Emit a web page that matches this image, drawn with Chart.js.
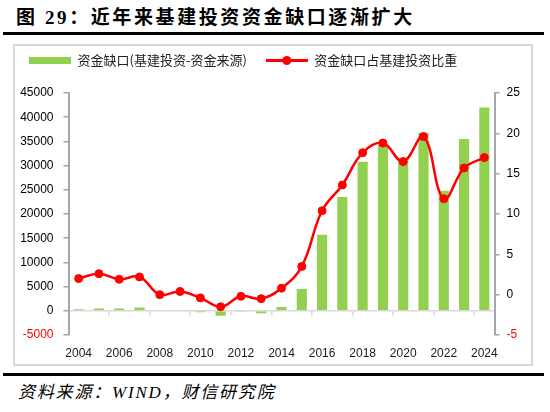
<!DOCTYPE html>
<html>
<head>
<meta charset="utf-8">
<script src="https://cdn.jsdelivr.net/npm/chart.js@4/dist/chart.umd.min.js"></script>
<style>
  body { margin: 0; background: #fff; width: 550px; height: 412px; position: relative; overflow: hidden; }
  #title { position: absolute; left: 16px; top: 8px; font: bold 19px/19px 'Liberation Serif', 'Noto Sans CJK SC', serif; letter-spacing: 2.6px; color: #000; white-space: nowrap; }
  .rule { position: absolute; left: 3px; width: 541px; height: 3px; background: #000; }
  #frame { position: absolute; left: 13px; top: 44px; width: 520px; height: 322px; box-sizing: border-box; border: 2px solid #d9d9d9; }
  #chart { position: absolute; left: 10px; top: 35px; }
  #source { position: absolute; left: 18px; top: 384px; font: italic 17px/18px 'Liberation Serif', 'Noto Sans CJK SC', serif; letter-spacing: 1.8px; color: #000; white-space: nowrap; }
</style>
</head>
<body>
<div id="title">图 29：近年来基建投资资金缺口逐渐扩大</div>
<div class="rule" style="top:32px"></div>
<div id="frame"></div>
<canvas id="chart" width="525" height="326"></canvas>
<div class="rule" style="top:373px"></div>
<div id="source">资料来源：WIND，财信研究院</div>

<script>
// data
var years = ['2004', '2005', '2006', '2007', '2008', '2009', '2010', '2011', '2012', '2013', '2014',
             '2015', '2016', '2017', '2018', '2019', '2020', '2021', '2022', '2023', '2024'];
// 资金缺口 (left axis)
var gapValues = [300, 500, 500, 700, 0, 150, -300, -1000, -100, -500, 800,
                 4500, 15700, 23500, 30800, 34300, 30900, 36800, 24800, 35500, 42000];
// 资金缺口占基建投资比重 (right axis, %)
var ratioValues = [2.0, 2.6, 1.9, 2.2, 0.0, 0.4, -0.4, -1.5, -0.2, -0.5, 0.8,
                   3.5, 10.4, 13.6, 17.6, 18.8, 16.5, 19.6, 11.9, 15.7, 17.0];
var leftTicks = { min: -5000, max: 45000, step: 5000 };
var rightTicks = { min: -5, max: 25, step: 5 };
var gapLabel = '资金缺口(基建投资-资金来源)';
var ratioLabel = '资金缺口占基建投资比重';

var green = '#92D050';
var red = '#FF0000';
var axisGray = '#a6a6a6';
var zeroGray = '#d9d9d9';

Chart.defaults.font.family = "'Liberation Sans', Arial, sans-serif";
Chart.defaults.font.size = 12;
Chart.defaults.color = '#000';

// little canvases used as legend symbols
function makeIcon(w, h, draw) {
    var c = document.createElement('canvas');
    c.width = w;
    c.height = h;
    draw(c.getContext('2d'), w, h);
    return c;
}
var barIcon = makeIcon(42, 7, function (ctx, w, h) {
    ctx.fillStyle = green;
    ctx.fillRect(0, 0, w, h);
});
var lineIcon = makeIcon(42, 11, function (ctx, w, h) {
    ctx.strokeStyle = red;
    ctx.lineWidth = 3;
    ctx.beginPath();
    ctx.moveTo(0, h / 2);
    ctx.lineTo(w, h / 2);
    ctx.stroke();
    ctx.fillStyle = red;
    ctx.beginPath();
    ctx.arc(w / 2, h / 2, 4.5, 0, Math.PI * 2);
    ctx.fill();
});

// extra room between legend and plot
var legendGap = {
    id: 'legendGap',
    beforeInit: function (chart) {
        var fit = chart.legend.fit;
        chart.legend.fit = function () {
            fit.call(this);
            this.height += 16;
        };
    }
};

function redNegative(ctx) {
    return ctx.tick && ctx.tick.value < 0 ? red : '#000';
}

new Chart(document.getElementById('chart'), {
    type: 'bar',
    data: {
        labels: years,
        datasets: [{
            label: gapLabel,
            data: gapValues,
            backgroundColor: green,
            barPercentage: 0.5,
            categoryPercentage: 1,
            yAxisID: 'y',
            order: 1
        }, {
            type: 'line',
            label: ratioLabel,
            data: ratioValues,
            borderColor: red,
            borderWidth: 2.5,
            tension: 0.4,
            pointRadius: 4,
            pointBorderWidth: 1,
            pointBackgroundColor: red,
            pointBorderColor: red,
            yAxisID: 'y1',
            order: 0
        }]
    },
    options: {
        responsive: false,
        animation: false,
        layout: { padding: 0 },
        plugins: {
            tooltip: { enabled: false },
            legend: {
                position: 'top',
                align: 'start',
                labels: {
                    usePointStyle: true,
                    pointStyleWidth: 42,
                    padding: 19,
                    color: '#222',
                    font: { family: "'Noto Sans CJK SC', sans-serif", size: 13 },
                    generateLabels: function () {
                        return [
                            { text: gapLabel, pointStyle: barIcon, datasetIndex: 0, lineWidth: 0,
                              fillStyle: 'transparent', strokeStyle: 'transparent', fontColor: '#222', hidden: false },
                            { text: ratioLabel, pointStyle: lineIcon, datasetIndex: 1, lineWidth: 0,
                              fillStyle: 'transparent', strokeStyle: 'transparent', fontColor: '#222', hidden: false }
                        ];
                    }
                }
            }
        },
        scales: {
            x: {
                position: 'bottom',
                grid: { display: false, drawTicks: false },
                border: { display: false },
                ticks: {
                    autoSkip: false,
                    maxRotation: 0,
                    padding: 11,
                    color: '#1a1a1a',
                    callback: function (v, i) { return i % 2 === 0 ? years[i] : ''; }
                },
                afterFit: function (s) { s.height = 26; }
            },
            // zero line of the left axis with its tick marks
            x0: {
                type: 'category',
                position: { y: 0 },
                offset: true,
                ticks: { display: false },
                grid: {
                    offset: true,
                    drawOnChartArea: false,
                    drawTicks: true,
                    tickLength: 4,
                    lineWidth: 1.5,
                    color: function (ctx) { return ctx.index % 2 === 0 ? zeroGray : 'rgba(0,0,0,0)'; }
                },
                border: { color: zeroGray, width: 1.5 }
            },
            y: {
                position: 'left',
                min: leftTicks.min,
                max: leftTicks.max,
                ticks: {
                    stepSize: leftTicks.step,
                    padding: 10,
                    color: redNegative,
                    callback: function (v) { return v; }
                },
                grid: { drawOnChartArea: false, tickLength: 5, color: axisGray, lineWidth: 1.5 },
                border: { color: axisGray, width: 2 },
                afterFit: function (s) { s.width = 58.5; }
            },
            y1: {
                position: 'right',
                min: rightTicks.min,
                max: rightTicks.max,
                ticks: {
                    stepSize: rightTicks.step,
                    padding: 7,
                    color: redNegative,
                    callback: function (v) { return v; }
                },
                grid: { drawOnChartArea: false, tickLength: 5, color: axisGray, lineWidth: 1.5 },
                border: { color: axisGray, width: 2 },
                afterFit: function (s) { s.width = 40.5; }
            }
        }
    },
    plugins: [legendGap]
});
</script>
</body>
</html>
